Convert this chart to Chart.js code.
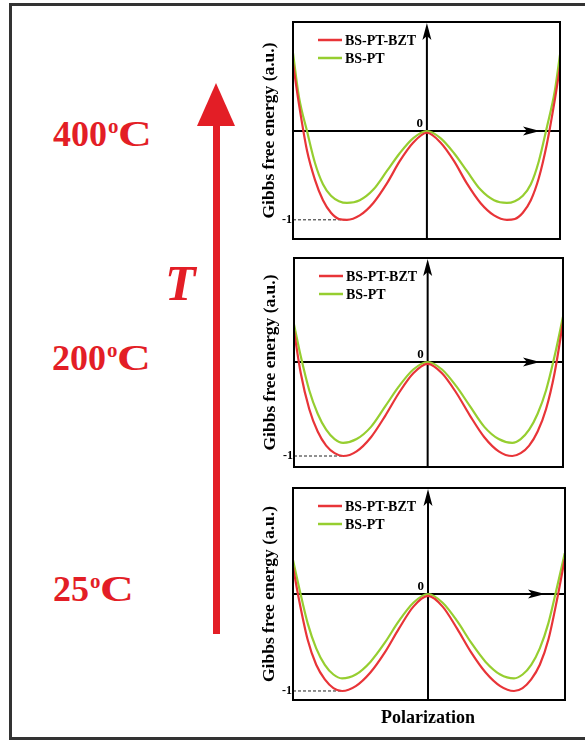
<!DOCTYPE html>
<html>
<head>
<meta charset="utf-8">
<script src="https://cdn.jsdelivr.net/npm/chart.js@4.4.1/dist/chart.umd.min.js"></script>
<style>
  html, body { margin: 0; padding: 0; background: #fff; }
  #page { width: 585px; height: 740px; position: relative; overflow: hidden; font-family: "Liberation Serif", "DejaVu Serif", serif; }
  .edge { position: absolute; background: #333; }
  .temp { position: absolute; color: #e31e26; font-weight: bold; font-size: 36px; line-height: 36px; white-space: nowrap; }
  .temp sup { font-size: 0.58em; vertical-align: 0.62em; line-height: 0; margin-left: 1px; }
  .temp .c { display: inline-block; transform: scaleX(1.3); transform-origin: left center; }
  .tlabel { position: absolute; left: 165px; top: 258px; color: #e31e26; font-weight: bold; font-style: italic; font-size: 50px; line-height: 50px; }
  .shaft { position: absolute; left: 213px; top: 120px; width: 7px; height: 514px; background: #e31e26; }
  .head { position: absolute; left: 197px; top: 83px; width: 0; height: 0; border-left: 19.5px solid transparent; border-right: 19.5px solid transparent; border-bottom: 43px solid #e31e26; }
  canvas { position: absolute; }
</style>
</head>
<body>
<div id="page">
<div class="edge" style="left:9px; top:3px; width:576px; height:3px;"></div>
<div class="edge" style="left:9px; top:3px; width:3px; height:737px;"></div>
<div class="edge" style="left:9px; top:737px; width:576px; height:3px;"></div>
<div class="temp" id="t400" style="left:53px; top:116px;"></div>
<div class="temp" id="t200" style="left:52px; top:340px;"></div>
<div class="temp" id="t25" style="left:53px; top:571px;"></div>
<div class="head"></div>
<div class="shaft"></div>
<div class="tlabel">T</div>
<canvas id="panel400" width="335" height="255" style="left:250px; top:2px;"></canvas>
<canvas id="panel200" width="335" height="249" style="left:250px; top:238px;"></canvas>
<canvas id="panel25" width="335" height="272" style="left:250px; top:468px;"></canvas>
</div>
<script>
// temperature labels and series names
const temperatures = ['400', '200', '25'];
const seriesLabels = ['BS-PT-BZT', 'BS-PT'];

// 400 C panel (polarization in a.u., Gibbs energy normalised to the BS-PT-BZT minimum)
const polarization400 = [-1.675, -1.6, -1.5, -1.4, -1.3, -1.2, -1.1, -1.0, -0.84, -0.67, -0.5, -0.34, -0.17, 0,
    0.17, 0.34, 0.5, 0.67, 0.84, 1.0, 1.1, 1.2, 1.3, 1.4, 1.5, 1.6, 1.665];
const bsptbzt400 = [0.76, 0.30, -0.22, -0.55, -0.78, -0.92, -0.99, -1.0, -0.95, -0.81, -0.59, -0.34, -0.13, -0.02,
    -0.13, -0.34, -0.59, -0.81, -0.95, -1.0, -0.99, -0.92, -0.78, -0.53, -0.15, 0.35, 0.72];
const bspt400 = [0.875, 0.38, 0.0, -0.36, -0.60, -0.73, -0.79, -0.81, -0.78, -0.66, -0.45, -0.25, -0.08, 0.0,
    -0.08, -0.25, -0.45, -0.66, -0.78, -0.81, -0.79, -0.73, -0.60, -0.34, 0.04, 0.45, 0.86];

// 200 C panel
const polarization200 = [-1.58, -1.5, -1.4, -1.3, -1.2, -1.1, -1.0, -0.84, -0.67, -0.5, -0.34, -0.17, 0,
    0.17, 0.34, 0.5, 0.67, 0.84, 1.0, 1.1, 1.2, 1.3, 1.4, 1.5, 1.6];
const bsptbzt200 = [0.33, -0.12, -0.50, -0.74, -0.89, -0.97, -1.0, -0.95, -0.80, -0.57, -0.33, -0.12, -0.02,
    -0.12, -0.33, -0.57, -0.80, -0.95, -1.0, -0.97, -0.89, -0.74, -0.50, -0.12, 0.42];
const bspt200 = [0.40, 0.06, -0.30, -0.55, -0.72, -0.82, -0.86, -0.82, -0.69, -0.47, -0.26, -0.08, 0.0,
    -0.08, -0.26, -0.47, -0.69, -0.82, -0.86, -0.82, -0.72, -0.55, -0.30, 0.06, 0.48];

// 25 C panel
const polarization25 = [-1.57, -1.5, -1.4, -1.3, -1.2, -1.1, -1.0, -0.84, -0.67, -0.5, -0.34, -0.17, 0,
    0.17, 0.34, 0.5, 0.67, 0.84, 1.0, 1.1, 1.2, 1.3, 1.4, 1.5, 1.59];
const bsptbzt25 = [0.28, -0.06, -0.47, -0.73, -0.88, -0.97, -1.0, -0.95, -0.81, -0.60, -0.36, -0.13, -0.02,
    -0.13, -0.36, -0.60, -0.81, -0.95, -1.0, -0.97, -0.88, -0.73, -0.47, -0.06, 0.36];
const bspt25 = [0.35, 0.07, -0.30, -0.56, -0.73, -0.83, -0.87, -0.83, -0.70, -0.50, -0.28, -0.09, 0.0,
    -0.09, -0.28, -0.50, -0.70, -0.83, -0.87, -0.83, -0.73, -0.56, -0.30, 0.07, 0.42];

const RED = 'rgb(232, 52, 56)';
const GREEN = 'rgb(150, 206, 48)';
const SERIF = '"Liberation Serif", "DejaVu Serif", serif';

temperatures.forEach(t => {
    document.getElementById('t' + t).innerHTML = t + '<sup>o</sup><span class="c">C</span>';
});

function drawArrowHead(ctx, x, y, dir) {
    // slim filled arrow head, dir 'up' or 'right'
    ctx.save();
    ctx.translate(x, y);
    if (dir === 'right') ctx.rotate(Math.PI / 2);
    ctx.beginPath();
    ctx.moveTo(0, 0);
    ctx.lineTo(4.5, 17);
    ctx.lineTo(0, 13);
    ctx.lineTo(-4.5, 17);
    ctx.closePath();
    ctx.fillStyle = '#000';
    ctx.fill();
    ctx.restore();
}

const axesPlugin = {
    id: 'gibbsAxes',
    beforeDatasetsDraw(chart, args, opts) {
        const { ctx, chartArea: a, scales } = chart;
        const x0 = scales.x.getPixelForValue(0);
        const y0 = scales.y.getPixelForValue(0);
        const yMin = scales.y.getPixelForValue(-1);
        const xMin = scales.x.getPixelForValue(-1);
        ctx.save();
        ctx.strokeStyle = '#000';
        ctx.lineWidth = 2;
        ctx.beginPath();
        ctx.moveTo(a.left, y0);
        ctx.lineTo(a.right, y0);
        ctx.moveTo(x0, a.bottom);
        ctx.lineTo(x0, a.top + 8);
        ctx.stroke();
        drawArrowHead(ctx, x0, a.top + 1, 'up');
        drawArrowHead(ctx, a.right - opts.arrowGap, y0, 'right');

        // dashed guide to the -1 minimum
        ctx.lineWidth = 1;
        ctx.strokeStyle = '#222';
        ctx.setLineDash([3, 2]);
        ctx.beginPath();
        ctx.moveTo(a.left, yMin);
        ctx.lineTo(xMin, yMin);
        ctx.stroke();
        ctx.setLineDash([]);

        ctx.fillStyle = '#000';
        ctx.font = 'bold 13px ' + SERIF;
        ctx.textAlign = 'right';
        ctx.textBaseline = 'alphabetic';
        ctx.fillText('0', x0 - 4, y0 - 4);
        ctx.font = 'bold 12px ' + SERIF;
        ctx.textBaseline = 'middle';
        ctx.fillText('-1', a.left - 1, yMin);

        // y axis title
        ctx.save();
        ctx.translate(a.left - 24, (a.top + a.bottom) / 2);
        ctx.rotate(-Math.PI / 2);
        ctx.textAlign = 'center';
        ctx.textBaseline = 'middle';
        ctx.font = 'bold 17.5px ' + SERIF;
        ctx.fillText('Gibbs free energy (a.u.)', 0, 0);
        ctx.restore();

        if (opts.xTitle) {
            ctx.textAlign = 'center';
            ctx.textBaseline = 'middle';
            ctx.font = 'bold 18px ' + SERIF;
            ctx.fillText(opts.xTitle, x0, a.bottom + 18);
        }
        ctx.restore();
    },
    afterDatasetsDraw(chart) {
        const { ctx, chartArea: a } = chart;
        ctx.save();
        ctx.strokeStyle = '#000';
        ctx.lineWidth = 2;
        ctx.strokeRect(a.left, a.top, a.right - a.left, a.bottom - a.top);

        // legend in the upper left corner
        ctx.font = 'bold 14px ' + SERIF;
        ctx.textAlign = 'left';
        ctx.textBaseline = 'middle';
        chart.data.datasets.forEach((ds, i) => {
            const y = a.top + 18 + i * 18;
            ctx.strokeStyle = ds.borderColor;
            ctx.lineWidth = 2.5;
            ctx.beginPath();
            ctx.moveTo(a.left + 25, y);
            ctx.lineTo(a.left + 49, y);
            ctx.stroke();
            ctx.fillStyle = '#000';
            ctx.fillText(ds.label, a.left + 52, y + 1);
        });
        ctx.restore();
    }
};

function makePanel(id, polar, redVals, greenVals, xRange, yRange, pad, arrowGap, xTitle) {
    const ctx = document.getElementById(id).getContext('2d');
    return new Chart(ctx, {
        type: 'line',
        data: {
            datasets: [{
                label: seriesLabels[0],
                data: redVals.map((value, index) => ({ x: polar[index], y: value })),
                borderColor: RED,
                borderWidth: 2.2,
            }, {
                label: seriesLabels[1],
                data: greenVals.map((value, index) => ({ x: polar[index], y: value })),
                borderColor: GREEN,
                borderWidth: 2.2,
            }]
        },
        options: {
            responsive: false,
            animation: false,
            events: [],
            layout: { padding: pad },
            elements: {
                point: { radius: 0 },
                line: { cubicInterpolationMode: 'monotone', fill: false }
            },
            scales: {
                x: { type: 'linear', display: false, min: xRange[0], max: xRange[1] },
                y: { type: 'linear', display: false, min: yRange[0], max: yRange[1] }
            },
            plugins: {
                legend: { display: false },
                tooltip: { enabled: false },
                gibbsAxes: { arrowGap: arrowGap, xTitle: xTitle }
            }
        },
        plugins: [axesPlugin]
    });
}

makePanel('panel400', polarization400, bsptbzt400, bspt400, [-1.675, 1.665], [-1.216, 1.227],
    { left: 43, right: 25, top: 20, bottom: 18 }, 20, null);
makePanel('panel200', polarization200, bsptbzt200, bspt200, [-1.58, 1.60], [-1.117, 1.106],
    { left: 44, right: 22, top: 20, bottom: 20 }, 23, null);
makePanel('panel25', polarization25, bsptbzt25, bspt25, [-1.57, 1.593], [-1.093, 1.093],
    { left: 43, right: 20, top: 20, bottom: 40 }, 20, 'Polarization');
</script>
</body>
</html>
